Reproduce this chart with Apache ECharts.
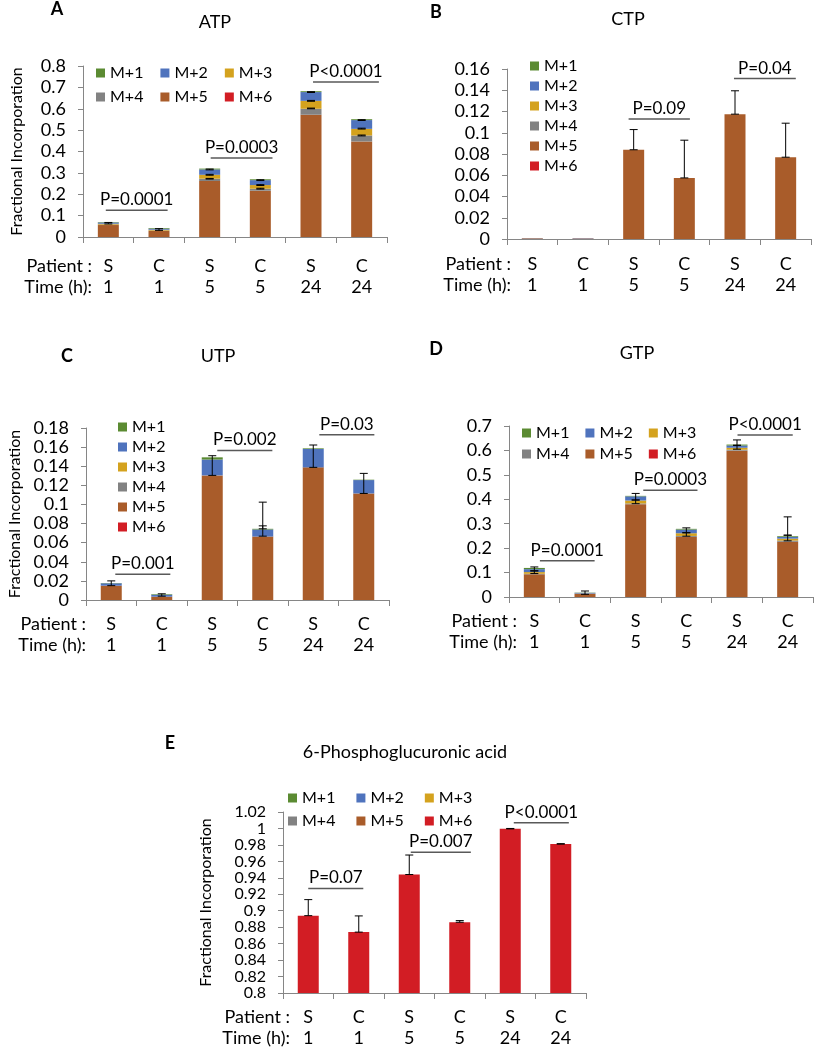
<!DOCTYPE html>
<html>
<head>
<meta charset="utf-8">
<script src="https://cdn.jsdelivr.net/npm/echarts@6/dist/echarts.min.js"></script>
<style>
  html, body { margin: 0; padding: 0; background: #fff; }
  #chart { width: 814px; height: 1050px; }
</style>
</head>
<body>
<div id="chart"></div>
<script>
// categories
const patients = ["S", "C", "S", "C", "S", "C"];
const hours = ["1", "1", "5", "5", "24", "24"];
const isotopes = ["M+1", "M+2", "M+3", "M+4", "M+5", "M+6"];
const isoColors = ["#5b8b32", "#4f73bd", "#d4a21e", "#828282", "#a95c2a", "#d21d24"];

// A: ATP
const atpM1 = [0.002, 0.003, 0.004, 0.004, 0.004, 0.004];
const atpM2 = [0.006, 0.005, 0.025, 0.023, 0.041, 0.041];
const atpM3 = [0.004, 0.004, 0.018, 0.017, 0.037, 0.031];
const atpM4 = [0.002, 0.002, 0.011, 0.0095, 0.028, 0.028];
const atpM5 = [0.056, 0.028, 0.262, 0.2165, 0.572, 0.447];
const atpM6 = [0, 0, 0, 0, 0, 0];
const atpErr = [
  [0, 0.061, 0.068], [1, 0.031, 0.039],
  [2, 0.314, 0.318], [2, 0.289, 0.293], [2, 0.271, 0.274],
  [3, 0.264, 0.268], [3, 0.241, 0.245], [3, 0.224, 0.228],
  [4, 0.676, 0.680], [4, 0.635, 0.639], [4, 0.600, 0.603],
  [5, 0.545, 0.549], [5, 0.505, 0.509], [5, 0.473, 0.477],
];
const atpP = [[-0.05, 1.17, 0.125, "P=0.0001"], [2.02, 3.24, 0.37, "P=0.0003"], [4.04, 5.34, 0.725, "P<0.0001"]];

// B: CTP
const ctpM1 = [0, 0, 0, 0, 0, 0];
const ctpM2 = [0.0002, 0.0003, 0, 0, 0, 0];
const ctpM3 = [0, 0, 0, 0, 0, 0];
const ctpM4 = [0, 0, 0, 0, 0, 0];
const ctpM5 = [0.0006, 0.0005, 0.084, 0.0575, 0.1175, 0.077];
const ctpM6 = [0, 0, 0, 0, 0, 0];
const ctpErr = [[2, 0.084, 0.103], [3, 0.0575, 0.093], [4, 0.1175, 0.1395], [5, 0.077, 0.109]];
const ctpP = [[1.9, 3.11, 0.113, "P=0.09"], [3.98, 5.2, 0.151, "P=0.04"]];

// C: UTP
const utpM1 = [0.0003, 0.0006, 0.0023, 0.0007, 0.0007, 0.0004];
const utpM2 = [0.0025, 0.002, 0.0166, 0.0074, 0.0192, 0.014];
const utpM3 = [0, 0, 0, 0, 0, 0];
const utpM4 = [0, 0, 0, 0, 0, 0];
const utpM5 = [0.015, 0.0035, 0.1304, 0.0664, 0.1388, 0.1115];
const utpM6 = [0, 0, 0, 0, 0, 0];
const utpErr = [
  [0, 0.015, 0.020], [1, 0.004, 0.0065], [2, 0.1304, 0.151],
  [3, 0.0668, 0.0776], [3, 0.0745, 0.1024], [4, 0.1388, 0.1622], [5, 0.1115, 0.1325],
];
const utpP = [[0.08, 1.17, 0.027, "P=0.001"], [2.1, 3.19, 0.1565, "P=0.002"], [4.12, 5.21, 0.173, "P=0.03"]];

// D: GTP
const gtpM1 = [0.005, 0.001, 0.002, 0.003, 0.004, 0.003];
const gtpM2 = [0.012, 0.003, 0.017, 0.015, 0.009, 0.007];
const gtpM3 = [0.007, 0.001, 0.012, 0.011, 0.008, 0.008];
const gtpM4 = [0.002, 0, 0.003, 0.004, 0.004, 0.005];
const gtpM5 = [0.093, 0.013, 0.380, 0.246, 0.599, 0.226];
const gtpM6 = [0, 0, 0, 0, 0, 0];
const gtpErr = [
  [0, 0.096, 0.107], [0, 0.107, 0.123], [1, 0.011, 0.0246],
  [2, 0.382, 0.397], [2, 0.397, 0.424], [3, 0.249, 0.263], [3, 0.263, 0.283],
  [4, 0.605, 0.621], [4, 0.621, 0.643], [5, 0.230, 0.253], [5, 0.253, 0.328],
];
const gtpP = [[0.11, 1.19, 0.148, "P=0.0001"], [2.15, 3.22, 0.4375, "P=0.0003"], [4.01, 5.1, 0.663, "P<0.0001"]];

// E: 6-Phosphoglucuronic acid
const pgaM1 = [0, 0, 0, 0, 0, 0];
const pgaM2 = [0, 0, 0, 0, 0, 0];
const pgaM3 = [0, 0, 0, 0, 0, 0];
const pgaM4 = [0, 0, 0, 0, 0, 0];
const pgaM5 = [0, 0, 0, 0, 0, 0];
const pgaM6 = [0.894, 0.874, 0.944, 0.886, 0.9997, 0.981];
const pgaErr = [[0, 0.894, 0.9135], [1, 0.874, 0.8937], [2, 0.944, 0.9677], [3, 0.886, 0.888], [4, 0.9995, 1.0], [5, 0.981, 0.9815]];
const pgaP = [[0.0, 1.09, 0.927, "P=0.07"], [2.03, 3.22, 0.971, "P=0.007"], [4.07, 5.16, 1.007, "P<0.0001"]];

const font = "Lato";
const axisGrey = "#868686";

const panels = [
  { letter: "A", title: "ATP", lx: 57, ly: 9, tx: 215, ty: 22,
    grid: { left: 83, top: 66, width: 304, height: 171 }, min: 0, max: 0.8, interval: 0.1, tickFont: 18,
    yName: true, nameGap: 58, labMargin: 19, rowRight: 92,
    legends: [{ left: 96, top: 65, data: ["M+1", "M+2", "M+3"], gap: 17 }, { left: 96, top: 89, data: ["M+4", "M+5", "M+6"], gap: 17 }],
    data: [atpM1, atpM2, atpM3, atpM4, atpM5, atpM6], err: atpErr, p: atpP },
  { letter: "B", title: "CTP", lx: 436, ly: 12, tx: 628, ty: 19,
    grid: { left: 507, top: 69, width: 304, height: 170 }, min: 0, max: 0.16, interval: 0.02, tickFont: 18,
    yName: false, labMargin: 15, rowRight: 511,
    legends: [{ left: 530, top: 58, data: isotopes, vertical: true }],
    data: [ctpM1, ctpM2, ctpM3, ctpM4, ctpM5, ctpM6], err: ctpErr, p: ctpP },
  { letter: "C", title: "UTP", lx: 67, ly: 356, tx: 218, ty: 356,
    grid: { left: 86, top: 428, width: 303, height: 172 }, min: 0, max: 0.18, interval: 0.02, tickFont: 18,
    yName: true, nameGap: 63, labMargin: 14, rowRight: 86,
    legends: [{ left: 118, top: 419, data: isotopes, vertical: true }],
    data: [utpM1, utpM2, utpM3, utpM4, utpM5, utpM6], err: utpErr, p: utpP },
  { letter: "D", title: "GTP", lx: 436, ly: 349, tx: 637, ty: 353,
    grid: { left: 509, top: 426, width: 304, height: 171 }, min: 0, max: 0.7, interval: 0.1, tickFont: 18,
    yName: false, labMargin: 14, rowRight: 517,
    legends: [{ left: 522, top: 425, data: ["M+1", "M+2", "M+3"], gap: 16 }, { left: 522, top: 446, data: ["M+4", "M+5", "M+6"], gap: 16 }],
    data: [gtpM1, gtpM2, gtpM3, gtpM4, gtpM5, gtpM6], err: gtpErr, p: gtpP },
  { letter: "E", title: "6-Phosphoglucuronic acid", lx: 170, ly: 743, tx: 405, ty: 752,
    grid: { left: 283, top: 812, width: 303, height: 181 }, min: 0.8, max: 1.02, interval: 0.02, tickFont: 16,
    yName: true, nameGap: 69, labMargin: 14, rowRight: 290,
    legends: [{ left: 288, top: 790, data: ["M+1", "M+2", "M+3"], gap: 21 }, { left: 288, top: 813, data: ["M+4", "M+5", "M+6"], gap: 21 }],
    data: [pgaM1, pgaM2, pgaM3, pgaM4, pgaM5, pgaM6], err: pgaErr, p: pgaP },
];

const catLabels = patients.map((p, i) => p + "\n" + hours[i]);

function renderErr(params, api) {
  const x = api.value(0);
  const lo = api.coord([x, api.value(1)]);
  const hi = api.coord([x, api.value(2)]);
  const w = 4;
  const st = { stroke: "#000", lineWidth: 1 };
  return {
    type: "group",
    children: [
      { type: "line", shape: { x1: lo[0], y1: lo[1], x2: hi[0], y2: hi[1] }, style: st },
      { type: "line", shape: { x1: lo[0] - w, y1: lo[1], x2: lo[0] + w, y2: lo[1] }, style: st },
      { type: "line", shape: { x1: hi[0] - w, y1: hi[1], x2: hi[0] + w, y2: hi[1] }, style: st },
    ],
  };
}

function makeBracket(list) {
  return function (params, api) {
    const item = list[params.dataIndex];
    const a = api.coord([item[0], item[2]]);
    const b = api.coord([item[1], item[2]]);
    return {
      type: "group",
      children: [
        { type: "line", shape: { x1: a[0], y1: a[1], x2: b[0], y2: b[1] }, style: { stroke: "#595959", lineWidth: 1.5 } },
        { type: "text", x: (a[0] + b[0]) / 2, y: a[1] - 2,
          style: { text: item[3], fill: "#000", font: "17px " + font, align: "center", verticalAlign: "bottom" } },
      ],
    };
  };
}

const grid = [], xAxis = [], yAxis = [], series = [], legend = [], graphic = [];

panels.forEach((pn, k) => {
  grid.push(pn.grid);
  xAxis.push({
    type: "category", gridIndex: k, data: catLabels,
    axisLine: { onZero: false, lineStyle: { color: axisGrey } },
    axisTick: { show: true, length: 6, lineStyle: { color: axisGrey } },
    axisLabel: { color: "#000", fontSize: 18, lineHeight: 21, margin: pn.labMargin, fontFamily: font, interval: 0 },
  });
  xAxis.push({ type: "value", gridIndex: k, min: -0.5, max: 5.5, show: false });
  yAxis.push({
    type: "value", gridIndex: k, min: pn.min, max: pn.max, interval: pn.interval,
    name: pn.yName ? "Fractional Incorporation" : "",
    nameLocation: "middle", nameGap: pn.nameGap || 50,
    nameTextStyle: { color: "#000", fontSize: 16, fontFamily: font },
    splitLine: { show: false },
    axisLine: { show: true, onZero: false, lineStyle: { color: axisGrey } },
    axisTick: { show: true, length: 5, lineStyle: { color: axisGrey } },
    axisLabel: {
      color: "#000", fontSize: pn.tickFont, lineHeight: pn.tickFont, margin: 17, fontFamily: font,
      showMinLabel: true, showMaxLabel: true, hideOverlap: false, interval: 0,
    },
  });

  // stack bottom-up: M+6 first, M+1 on top
  for (let j = 5; j >= 0; j--) {
    series.push({
      name: isotopes[j], type: "bar", stack: "s" + k,
      xAxisIndex: 2 * k, yAxisIndex: k, barWidth: 21,
      itemStyle: { color: isoColors[j] },
      data: pn.data[j],
    });
  }
  series.push({
    type: "custom", coordinateSystem: "cartesian2d", xAxisIndex: 2 * k + 1, yAxisIndex: k,
    renderItem: renderErr, data: pn.err, z: 5, encode: { x: 0, y: [1, 2] },
  });
  series.push({
    type: "custom", coordinateSystem: "cartesian2d", xAxisIndex: 2 * k + 1, yAxisIndex: k,
    renderItem: makeBracket(pn.p), data: pn.p.map((d) => [d[0], d[1], d[2]]), z: 5,
    encode: { x: [0, 1], y: 2 },
  });

  pn.legends.forEach((lg) => {
    legend.push({
      left: lg.left, top: lg.top, padding: 0, orient: lg.vertical ? "vertical" : "horizontal",
      itemWidth: 9, itemHeight: 9, itemGap: lg.vertical ? 4 : lg.gap, icon: "rect",
      selectedMode: false, data: lg.data,
      textStyle: { color: "#000", fontSize: 16, lineHeight: 16, fontFamily: font },
    });
  });

  graphic.push({ type: "text", x: pn.lx, y: pn.ly,
    style: { text: pn.letter, font: "bold 18px " + font, fill: "#000", align: "center", verticalAlign: "middle" } });
  graphic.push({ type: "text", x: pn.tx, y: pn.ty,
    style: { text: pn.title, font: "18px " + font, fill: "#000", align: "center", verticalAlign: "middle" } });
  const baseY = pn.grid.top + pn.grid.height + pn.labMargin + 10.5;
  graphic.push({ type: "text", x: pn.rowRight, y: baseY,
    style: { text: "Patient :", font: "18px " + font, fill: "#000", align: "right", verticalAlign: "middle" } });
  graphic.push({ type: "text", x: pn.rowRight, y: baseY + 21,
    style: { text: "Time (h):", font: "18px " + font, fill: "#000", align: "right", verticalAlign: "middle" } });
});

const chart = echarts.init(document.getElementById("chart"));
chart.setOption({
  animation: false,
  backgroundColor: "#fff",
  textStyle: { fontFamily: font },
  grid, xAxis, yAxis, series, legend, graphic,
});
</script>
</body>
</html>
